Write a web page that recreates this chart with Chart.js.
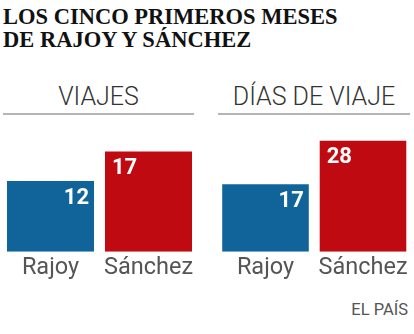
<!DOCTYPE html>
<html>
<head>
<meta charset="utf-8">
<script src="https://cdn.jsdelivr.net/npm/chart.js@4.4.1/dist/chart.umd.min.js"></script>
<style>
  body { margin: 0; background: #fff; }
  #wrap { position: relative; width: 414px; height: 334px; overflow: hidden; }
  .title {
    position: absolute; left: 3px; top: 5px;
    font-family: "Liberation Serif", serif; font-weight: bold;
    font-size: 22.5px; line-height: 23px; color: #111;
  }
  .sub {
    position: absolute; top: 82px; height: 31px; line-height: 30px;
    font-family: Roboto, "Liberation Sans", sans-serif; font-weight: 300;
    font-size: 25px; color: #333; text-align: center;
    border-bottom: 2px solid #b5b5b5;
  }
  .box { position: absolute; top: 125px; height: 167px; }
  .credit {
    position: absolute; right: 6px; top: 300px;
    font-family: Roboto, "Liberation Sans", sans-serif;
    font-size: 16.5px; color: #555;
  }
</style>
</head>
<body>
<div id="wrap">
  <div class="title">LOS CINCO PRIMEROS MESES<br>DE RAJOY Y SÁNCHEZ</div>
  <div class="sub" style="left:3px;width:191px;">VIAJES</div>
  <div class="sub" style="left:218px;width:192px;">DÍAS DE VIAJE</div>
  <div class="box" style="left:0;width:205px;"><canvas id="chartViajes"></canvas></div>
  <div class="box" style="left:210px;width:204px;"><canvas id="chartDias"></canvas></div>
  <div class="credit">EL PAÍS</div>
</div>
<script>
// data
const leaders = ['Rajoy', 'Sánchez'];
const viajes = [12, 17];
const diasViaje = [17, 28];
const barColors = ['#10649a', '#c00a12'];

// white numbers inside the top corner of each bar
const valueLabels = {
  id: 'valueLabels',
  afterDatasetsDraw(chart) {
    const c = chart.ctx;
    const meta = chart.getDatasetMeta(0);
    const vals = chart.data.datasets[0].data;
    c.save();
    c.fillStyle = '#fff';
    c.font = 'bold 22px Roboto, "Liberation Sans", sans-serif';
    c.textBaseline = 'top';
    meta.data.forEach((bar, i) => {
      const half = bar.width / 2;
      if (i == 0) {
        c.textAlign = 'right';
        c.fillText(vals[i], bar.x + half - 5, bar.y + 6);
      } else {
        c.textAlign = 'left';
        c.fillText(vals[i], bar.x - half + 7, bar.y + 6);
      }
    });
    c.restore();
  }
};

function makeChart(id, values, yMax, padLeft, padRight) {
  return new Chart(document.getElementById(id), {
    type: 'bar',
    data: {
      labels: leaders,
      datasets: [{
        data: values,
        backgroundColor: barColors,
        barPercentage: 1,
        categoryPercentage: 0.888
      }]
    },
    options: {
      responsive: true,
      maintainAspectRatio: false,
      animation: false,
      layout: { padding: { left: padLeft, right: padRight, top: 5, bottom: 8 } },
      plugins: { legend: { display: false }, tooltip: { enabled: false } },
      scales: {
        x: {
          grid: { display: false, drawTicks: false, tickLength: 0 },
          border: { display: false },
          ticks: {
            color: '#555',
            padding: 2,
            font: { family: 'Roboto, "Liberation Sans", sans-serif', size: 23.5 }
          }
        },
        y: { display: false, min: 0, max: yMax }
      }
    },
    plugins: [valueLabels]
  });
}

makeChart('chartViajes', viajes, 20.65, 1.5, 7.5);
makeChart('chartDias', diasViaje, 30.7, 6.75, 2.25);
</script>
</body>
</html>
